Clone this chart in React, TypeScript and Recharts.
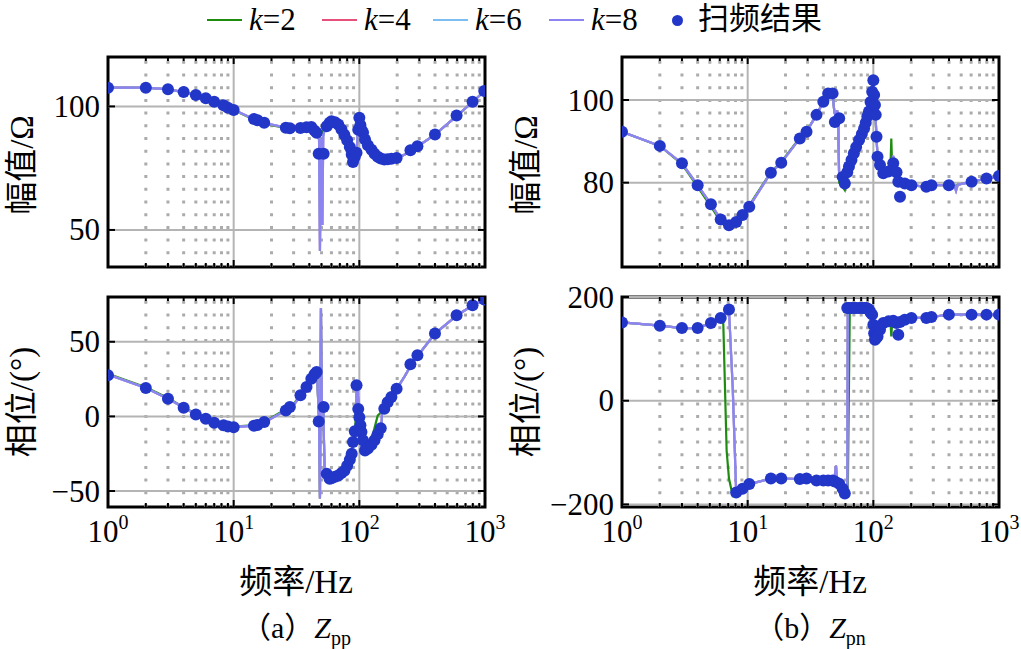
import React from 'react';
import { ComposedChart, Line, Scatter, XAxis, YAxis, ReferenceLine, ReferenceArea } from 'recharts';

const SERIF = "'Liberation Serif', 'Times New Roman', 'Noto Sans CJK SC', serif";
const C_K2 = '#1f8c10';
const C_K4 = '#e8507c';
const C_K6 = '#7dbdf0';
const C_K8 = '#8c84f0';
const C_SCAN = '#2236c8';

const PLOT_W = 377;
const PLOT_H = 210;
const AXIS_W = 100;
const PAD_T = 24;
const PAD_R = 34;
const X_AXIS_H = 48;

// frequency axis
const xMajor = [1, 10, 100, 1000];
const xMinor = [2, 3, 4, 5, 6, 7, 8, 9, 20, 30, 40, 50, 60, 70, 80, 90, 200, 300, 400, 500, 600, 700, 800, 900];
const xTicks = [1, 2, 3, 4, 5, 6, 7, 8, 9, 10, 20, 30, 40, 50, 60, 70, 80, 90, 100, 200, 300, 400, 500, 600, 700, 800, 900, 1000];

// (a) Zpp — model curves
const lineFreqA = [1, 2, 3, 4, 5, 6, 7, 8, 9, 10,
  14, 18, 26, 30, 34, 40, 44, 46, 47.8, 48.6,
  49.5, 50.2, 50.8, 51.6, 53, 55, 58, 62, 68, 74,
  80, 85, 89, 92, 94, 95.5, 97, 99, 100, 102,
  104, 108, 113, 120, 130, 140, 150, 152, 165, 180,
  200, 230, 260, 300, 400, 600, 800, 1000];
const magAk8 = [107.6, 107.6, 106.9, 105.8, 104.6, 103.3, 101.9, 100.8, 99.6, 98.6,
  95.2, 93.2, 91.4, 91.1, 91.2, 91.7, 90.2, 89.0, 86.5, 41.5,
  85.5, 87.5, 52, 88, 90.5, 92.2, 93.4, 93.6, 92.6, 89.5,
  86, 82.5, 78.5, 79, 80.5, 82, 90.6, 94, 95.4, 93,
  90.6, 88, 85.5, 83.5, 81.5, 79.8, 79, 78.9, 78.5, 78.8,
  79.1, 80.5, 82.5, 84.3, 88.6, 96.3, 101.9, 106.4];
const magAk2 = [107.6, 107.6, 106.9, 105.8, 104.5, 103.1, 101.7, 100.6, 99.5, 98.5,
  95.0, 92.9, 91.2, 91.0, 91.1, 91.6, 90.2, 89.0, 87.0, 88.0,
  88.5, 89.0, 89.5, 90.0, 90.8, 92.2, 93.4, 93.6, 92.6, 89.5,
  86, 82.5, 78.5, 79, 80.5, 82, 90.6, 94, 95.4, 93,
  90.6, 88, 85.5, 83.5, 81.8, 80.3, 79.6, 79.4, 78.7, 78.8,
  79.1, 80.5, 82.5, 84.3, 88.6, 96.3, 101.9, 106.4];
const phaseAk8 = [28, 19, 11.9, 5.8, 1.3, -1.6, -4.2, -5.8, -6.8, -7.2,
  -6.4, -3.6, 4, 7.5, 13.8, 22, 27.8, 30, -3, -55,
  72.5, 8, 6.3, 6.3, -38.5, -41, -42, -41.5, -39.6, -37,
  -33, -28, -17, -15, -10, 20.8, 18, 0.7, -7, -12,
  -20, -22, -21, -18, -14.5, -9.4, -6, 4.5, 9, 13,
  19, 27, 34.9, 42, 55.5, 67.8, 74.5, 78.3];
const phaseAk2 = [28.5, 19.5, 12.3, 6.2, 1.8, -1.2, -3.8, -5.4, -6.4, -6.9,
  -6.0, -3.0, 4.8, 8.2, 14.5, 22.5, 28, 30, -3, -55,
  72.5, 8, 6.3, 6.3, -38.5, -41, -42, -41.5, -39.6, -37,
  -33, -28, -17, -15, 5, 20.8, 18, 0.7, -7, -12,
  -20, -22, -21, -18, -10, 0.5, 3, 5, 9, 13,
  19, 27, 34.9, 42, 55.5, 67.8, 74.5, 78.3];

// (a) Zpp — frequency scan
const scanFreqA = [1, 2, 3, 4, 5, 6, 7, 8.3, 9, 10,
  14.5, 15.5, 17.5, 26, 28, 34, 38, 41.5, 44, 45.7,
  47.5, 52, 55, 58, 60, 64, 68, 72, 76, 80,
  84, 87, 89, 92, 95, 98, 100, 102, 104, 107,
  111, 117, 125, 132, 140, 148, 158, 168, 180, 198,
  255, 290, 400, 594, 796, 986];
const scanMagA = [107.6, 107.6, 106.9, 105.8, 104.6, 103.3, 101.9, 100.5, 99.5, 98.5,
  94.9, 94.4, 93.4, 91.4, 91.2, 91.3, 91.6, 91.7, 90.2, 89.3,
  80.8, 80.8, 92.0, 93.4, 94.0, 93.6, 92.7, 90.8, 88.5, 86.3,
  83.6, 80.5, 77.5, 79.5, 81.2, 90.6, 95.4, 92.5, 90.6, 89.4,
  86.6, 84.3, 82.5, 80.8, 79.6, 78.9, 78.5, 78.6, 78.8, 79.1,
  82.3, 83.9, 88.6, 96.3, 101.9, 106.2];
const scanPhaseA = [27.5, 19, 11.9, 5.8, 1.3, -1.6, -4.2, -6, -6.8, -7.2,
  -6.2, -5.8, -3.8, 4, 6.3, 14.1, 19.7, 25.3, 28.2, 29.7,
  -3.4, 6.3, -38.5, -41.8, -41.5, -40.5, -39.6, -38, -36.5, -33,
  -29, -25, -17.2, -10, 20.8, 5, -0.5, -6, -10.5, -16,
  -22.8, -21.5, -19, -16, -12, -8, 5.2, 9.5, 13, 18.6,
  34.9, 41, 55.5, 67.8, 74.5, 78.3];

// (b) Zpn — model curves
const lineFreqB = [1, 2, 3, 4, 5.1, 6.1, 6.4, 6.8, 7.1, 7.6,
  8.1, 9.1, 10.3, 15.3, 18.5, 26, 29.4, 35.3, 40, 43.7,
  47.4, 49, 50.5, 51.5, 52.5, 53.5, 57, 59.3, 62, 62.6,
  65, 70, 77, 84.4, 89.6, 95, 100, 103, 106, 108,
  113, 120, 132, 137, 139, 141, 144, 150, 158, 163,
  178, 201, 264, 290, 399, 440, 455, 470, 605, 795,
  1000];
const magBk8 = [92.3, 88.9, 84.7, 79.4, 74.8, 71.1, 70.6, 70.0, 69.7, 70.0,
  70.5, 72.2, 74.2, 82.4, 84.8, 90.7, 92.3, 96.4, 99.6, 101.6,
  101.6, 97, 96, 97.5, 95.5, 81, 81.4, 79.8, 82.5, 83,
  84.3, 87.1, 90.3, 93.1, 96, 99.5, 104.8, 99, 91, 86.3,
  84.3, 82.3, 82.7, 83.5, 84, 85, 86.5, 83, 80.2, 79.8,
  79.8, 79.4, 79.0, 79.4, 79.4, 79.3, 78, 79.5, 80.2, 81,
  81.6];
const magBk2 = [92.3, 88.9, 84.5, 79.0, 74.2, 70.6, 70.2, 69.8, 69.6, 70.0,
  70.5, 72.4, 74.5, 82.6, 85.0, 90.9, 92.5, 96.4, 99.6, 101.6,
  101.6, 97, 96, 97.5, 95.5, 80, 79, 78.2, 81, 82,
  84.0, 87.1, 90.3, 93.1, 96, 99.5, 104.8, 99, 91, 86.3,
  84.3, 82.3, 82.7, 84, 90.7, 84, 85, 81, 80.2, 79.8,
  79.8, 79.4, 79.0, 79.4, 79.4, 79.3, 79.3, 79.5, 80.2, 81,
  81.6];
const phaseBk8 = [151, 144.7, 140, 140, 150, 159.6, 164, 170, 175.7, 27,
  -177, -170, -160.8, -150, -150, -151, -150, -154, -154, -154,
  -154, -150, -125, -155, -160, -163, -170, -179, -179, 179,
  179, 179, 179, 179, 178, 170, 146.6, 117.5, 122, 124,
  137, 150, 153, 153, 153, 153, 154, 152, 155, 156,
  156, 159.6, 159.6, 161.5, 166, 166, 166, 166, 166, 166,
  166];
const phaseBk2 = [151, 144.7, 140, 140, 150, 159.6, 148, -96, -150, -183,
  -177, -170, -160.8, -150, -150, -151, -150, -154, -154, -154,
  -154, -152, -154, -155, -160, -163, -172, -182, -182, -182,
  179, 179, 179, 179, 178, 170, 146.6, 117.5, 122, 124,
  137, 150, 153, 152, 124, 148, 154, 152, 155, 156,
  156, 159.6, 159.6, 161.5, 166, 166, 166, 166, 166, 166,
  166];

// (b) Zpn — frequency scan
const scanFreqB = [1, 2, 3, 4, 5.1, 6.1, 7.1, 8.1, 9.1, 10.3,
  15.3, 18.5, 26, 29.4, 35.3, 40, 43.7, 47.4, 49.4, 53.5,
  57, 59.3, 62, 64, 67, 70, 73, 77, 81, 84.4,
  87, 89.6, 92.3, 95, 97.9, 100, 101.5, 103, 104.5, 106,
  108, 113, 120, 132, 144, 153, 158, 163, 178, 201,
  264, 290, 399, 605, 795, 1000];
const scanMagB = [92.3, 88.9, 84.7, 79.4, 74.8, 71.1, 69.7, 70.5, 72.2, 74.2,
  82.4, 84.8, 90.7, 92.3, 96.4, 99.6, 101.6, 101.6, 94.7, 95.6,
  81.4, 79.8, 82.5, 83.9, 85.5, 87.1, 88.6, 90.3, 91.8, 93.1,
  94.5, 96.0, 97.2, 99.5, 102.0, 104.8, 101.2, 98.8, 96.4, 91.1,
  86.3, 84.3, 82.3, 82.7, 84.7, 82.5, 80.2, 76.6, 79.8, 79.4,
  79.0, 79.4, 79.4, 80.2, 81.0, 81.6];
const scanPhaseB = [151, 144.7, 140, 140, 150, 159.6, 175.7, -177, -170, -160.8,
  -150, -150, -151, -150, -154, -154, -154, -154, -156, -160,
  -170, -179, 179, 179, 179, 179, 179, 179, 179, 179,
  179, 178, 175.7, 170, 166, 146.6, 130, 117.5, 120, 122,
  124, 137, 150, 153, 154, 150, 127, 152, 156, 159.6,
  159.6, 161.5, 166, 166, 166, 166];

const toRows = (fs: number[], vs: number[]) => fs.map((f, i) => ({ f, v: vs[i] }));

const XTick = (props: any) => {
  const { x, y, payload, showLabel } = props;
  const v = payload.value;
  const major = xMajor.includes(v);
  const len = major ? 7 : 4;
  return (
    <g>
      <line x1={x} y1={y} x2={x} y2={y - len} stroke="#000" strokeWidth={2} />
      <line x1={x} y1={y - PLOT_H} x2={x} y2={y - PLOT_H + len} stroke="#000" strokeWidth={2} />
      {showLabel && major && (
        <text x={x} y={y + 35} textAnchor="middle" fontFamily={SERIF} fontSize={31} fill="#000">
          10<tspan dy={-13} fontSize={20}>{Math.round(Math.log10(v))}</tspan>
        </text>
      )}
    </g>
  );
};

const YTick = (props: any) => {
  const { x, y, payload } = props;
  const v = payload.value;
  return (
    <g>
      <line x1={x} y1={y} x2={x + 7} y2={y} stroke="#000" strokeWidth={2} />
      <line x1={x + PLOT_W} y1={y} x2={x + PLOT_W - 7} y2={y} stroke="#000" strokeWidth={2} />
      <text x={x - 8} y={y} dy="0.34em" textAnchor="end" fontFamily={SERIF} fontSize={31} fill="#000">
        {v < 0 ? `\u2212${Math.abs(v)}` : v}
      </text>
    </g>
  );
};

function Panel(props: any) {
  const { left, top, domain, yTicks, freqLine, k2, k4, k6, k8, freqScan, scan, showX } = props;
  return (
    <div style={{ position: 'absolute', left: left - AXIS_W, top: top - PAD_T }}>
      <ComposedChart
        width={AXIS_W + PLOT_W + PAD_R}
        height={PAD_T + PLOT_H + X_AXIS_H}
        margin={{ top: PAD_T, right: PAD_R, bottom: 0, left: 0 }}
      >
        <XAxis
          dataKey="f"
          type="number"
          scale="log"
          domain={[1, 1000]}
          ticks={xTicks}
          interval={0}
          allowDataOverflow
          height={X_AXIS_H}
          tickSize={0}
          tickMargin={0}
          axisLine={false}
          tick={(p: any) => <XTick {...p} showLabel={showX} />}
        />
        <YAxis
          dataKey="v"
          type="number"
          domain={domain}
          ticks={yTicks}
          allowDataOverflow
          width={AXIS_W}
          tickSize={0}
          tickMargin={0}
          axisLine={false}
          tick={(p: any) => <YTick {...p} />}
        />
        {xMinor.map(f => (
          <ReferenceLine key={`m${f}`} x={f} stroke="#ababab" strokeWidth={3} strokeDasharray="3 9.7" />
        ))}
        {[10, 100].map(f => (
          <ReferenceLine key={`M${f}`} x={f} stroke="#b4b4b4" strokeWidth={2} />
        ))}
        {yTicks.map((t: number) => (
          <ReferenceLine key={`y${t}`} y={t} stroke="#b4b4b4" strokeWidth={2} />
        ))}
        <Line data={toRows(freqLine, k2)} dataKey="v" stroke={C_K2} strokeWidth={2.2} dot={false} isAnimationActive={false} />
        <Line data={toRows(freqLine, k4)} dataKey="v" stroke={C_K4} strokeWidth={2.2} dot={false} isAnimationActive={false} />
        <Line data={toRows(freqLine, k6)} dataKey="v" stroke={C_K6} strokeWidth={2.2} dot={false} isAnimationActive={false} />
        <Line data={toRows(freqLine, k8)} dataKey="v" stroke={C_K8} strokeWidth={2.2} dot={false} isAnimationActive={false} />
        <ReferenceArea x1={1} x2={1000} y1={domain[0]} y2={domain[1]} fill="none" stroke="#000" strokeWidth={3} ifOverflow="visible" />
        <Scatter
          data={toRows(freqScan, scan)}
          dataKey="v"
          fill={C_SCAN}
          isAnimationActive={false}
          shape={(p: any) => <circle cx={p.cx} cy={p.cy} r={6} fill={C_SCAN} />}
        />
      </ComposedChart>
    </div>
  );
}

const textStyle: React.CSSProperties = { position: 'absolute', fontFamily: SERIF, color: '#000', whiteSpace: 'nowrap', lineHeight: 1 };

const legendItems = [
  { n: '2', color: C_K2, x: 207 },
  { n: '4', color: C_K4, x: 322 },
  { n: '6', color: C_K6, x: 433 },
  { n: '8', color: C_K8, x: 549 },
];

function YTitle({ cx, cy, text }: { cx: number; cy: number; text: string }) {
  return (
    <div style={{ ...textStyle, left: cx, top: cy, fontSize: 33, transform: 'translate(-50%, -50%) rotate(-90deg)' }}>
      {text}
    </div>
  );
}

export default function App() {
  return (
    <div style={{ position: 'absolute', left: 0, top: 0, width: 1021, height: 649, background: '#fff', overflow: 'hidden' }}>
      {legendItems.map(it => (
        <React.Fragment key={it.n}>
          <div style={{ position: 'absolute', left: it.x, top: 19, width: 35, height: 2, background: it.color }} />
          <div style={{ ...textStyle, left: it.x + 42, top: 4, fontSize: 31 }}>
            <i>k</i>={it.n}
          </div>
        </React.Fragment>
      ))}
      <div style={{ position: 'absolute', left: 672, top: 15, width: 11, height: 11, borderRadius: '50%', background: C_SCAN }} />
      <div style={{ ...textStyle, left: 698, top: 3, fontSize: 31 }}>扫频结果</div>

      <Panel left={108} top={57} domain={[35, 120]} yTicks={[50, 100]}
        freqLine={lineFreqA} k2={magAk2} k4={magAk8} k6={magAk8} k8={magAk8}
        freqScan={scanFreqA} scan={scanMagA} showX={false} />
      <Panel left={108} top={297} domain={[-60.7, 80]} yTicks={[-50, 0, 50]}
        freqLine={lineFreqA} k2={phaseAk2} k4={phaseAk8} k6={phaseAk8} k8={phaseAk8}
        freqScan={scanFreqA} scan={scanPhaseA} showX />
      <Panel left={622} top={57} domain={[59.6, 110.4]} yTicks={[80, 100]}
        freqLine={lineFreqB} k2={magBk2} k4={magBk8} k6={magBk8} k8={magBk8}
        freqScan={scanFreqB} scan={scanMagB} showX={false} />
      <Panel left={622} top={297} domain={[-205, 200]} yTicks={[-200, 0, 200]}
        freqLine={lineFreqB} k2={phaseBk2} k4={phaseBk8} k6={phaseBk8} k8={phaseBk8}
        freqScan={scanFreqB} scan={scanPhaseB} showX />

      <YTitle cx={22} cy={165} text="幅值/Ω" />
      <YTitle cx={22} cy={402} text="相位/(°)" />
      <YTitle cx={526} cy={165} text="幅值/Ω" />
      <YTitle cx={526} cy={402} text="相位/(°)" />

      <div style={{ ...textStyle, left: 296, top: 582, fontSize: 33, transform: 'translate(-50%, -50%)' }}>频率/Hz</div>
      <div style={{ ...textStyle, left: 810, top: 582, fontSize: 33, transform: 'translate(-50%, -50%)' }}>频率/Hz</div>
      <div style={{ ...textStyle, left: 296, top: 630, fontSize: 30, transform: 'translate(-50%, -50%)' }}>
        （a）<i>Z</i><sub style={{ fontSize: 20 }}>pp</sub>
      </div>
      <div style={{ ...textStyle, left: 810, top: 630, fontSize: 30, transform: 'translate(-50%, -50%)' }}>
        （b）<i>Z</i><sub style={{ fontSize: 20 }}>pn</sub>
      </div>
    </div>
  );
}
